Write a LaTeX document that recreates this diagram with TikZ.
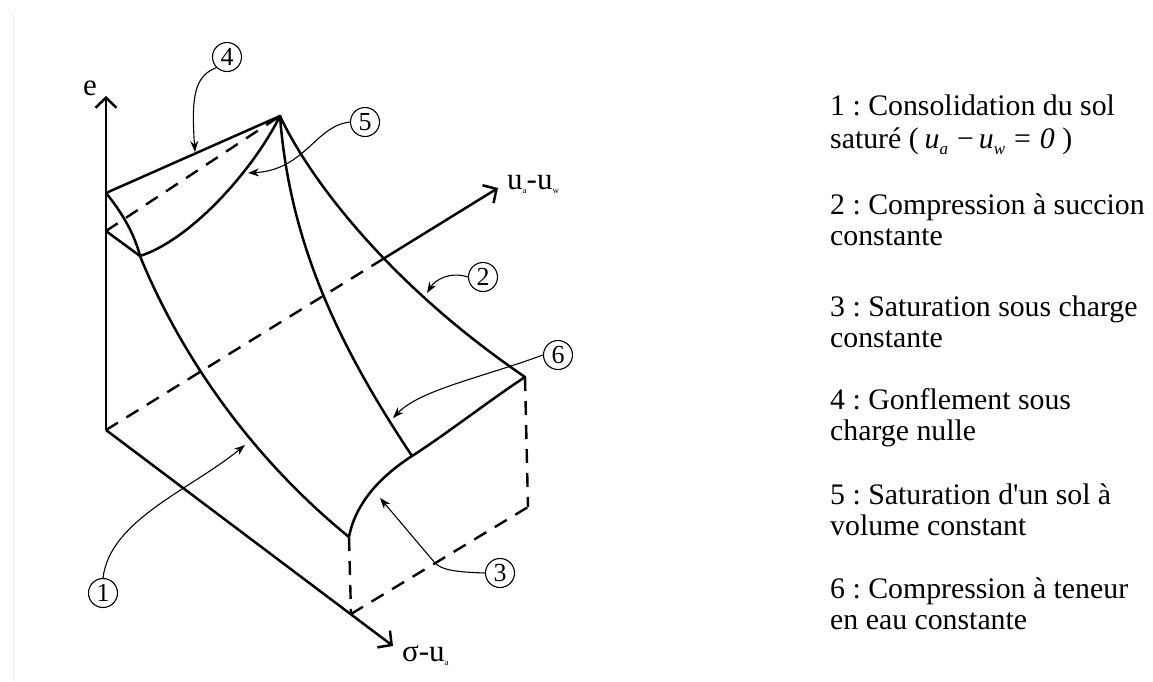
\documentclass[tikz,border=0pt]{standalone}
\usepackage{fontspec}
\setmainfont{Liberation Serif}
\usetikzlibrary{arrows.meta}
\begin{document}
\frenchspacing
\begin{tikzpicture}[x=1pt,y=-1pt,
  edge/.style={line width=2.5pt, line cap=round, line join=round},
  hidden/.style={line width=2.4pt, dash pattern=on 14pt off 10pt},
  axisline/.style={line width=2.5pt, -{Straight Barb[length=10pt,width=21pt,line width=2.5pt]}},
  leader/.style={line width=1.1pt, -{Stealth[length=11pt,width=8pt]}},
  num/.style={circle, draw, line width=1.1pt, minimum size=29pt, inner sep=0pt, font=\fontsize{26}{26}\selectfont},
  lab/.style={font=\fontsize{31}{31}\selectfont, inner sep=0pt},
  legend/.style={anchor=base west, inner sep=0pt, font=\fontsize{29.8}{32}\selectfont},
]
\path[use as bounding box] (0,0) rectangle (1153,681);
\draw[black!7, line width=1pt] (13,12) -- (13,681);

% key points
\coordinate (O) at (106,430);
\coordinate (Etip) at (106,96);
\coordinate (A) at (106,193);
\coordinate (B) at (106,231);
\coordinate (X) at (280,116);
\coordinate (P) at (140,256);
\coordinate (Q) at (349,537);
\coordinate (R) at (525,377);
\coordinate (S) at (351,614);
\coordinate (T) at (528,507);
\coordinate (M) at (412,456);
\coordinate (W) at (383,259);
\coordinate (Utip) at (498,188);
\coordinate (Stip) at (393,646);

% axes
\draw[axisline] (O) -- (Etip);
\draw[axisline] (O) -- (Stip);
\draw[hidden] (O) -- (W);
\draw[axisline] (W) -- (Utip);

% top face
\draw[edge] (A) -- (X);
\draw[hidden] (B) -- (X);
\draw[edge] (B) -- (P);

% curve 1
\draw[edge] (A) .. controls (120,210) and (134,232) .. (P) .. controls (168,325) and (230,440) .. (Q);
% curve 5
\draw[edge] (P) .. controls (190,240) and (252,172) .. (X);
% curve 6 (inner)
\draw[edge] (X) .. controls (290,250) and (345,355) .. (M);
% curve 2 (outer)
\draw[edge] (X) .. controls (310,180) and (390,285) .. (R);
% curve 3 (bottom)
\draw[edge] (Q) .. controls (355,505) and (378,478) .. (M) .. controls (445,435) and (490,400) .. (R);

% hidden box lines
\draw[hidden] (Q) -- (S);
\draw[hidden] (S) -- (T);
\draw[hidden] (R) -- (T);

% axis labels
\node[lab] (le) at (90,88) {e};
\node[lab, anchor=west] (lu) at (507,184) {u{\fontsize{9}{9}\selectfont\raisebox{-4pt}{a}}-u{\fontsize{9}{9}\selectfont\raisebox{-4pt}{w}}};
\node[lab, anchor=west] (ls) at (402,656) {σ-u{\fontsize{9}{9}\selectfont\raisebox{-4pt}{a}}};

% numbered circles and leaders
\node[num] (n1) at (103,593) {1};
\node[num] (n2) at (483,277) {2};
\node[num] (n3) at (500,573) {3};
\node[num] (n4) at (227,57) {4};
\node[num] (n5) at (365,122) {5};
\node[num] (n6) at (558,355) {6};

\draw[leader] (n1.north) .. controls (110,520) and (190,490) .. (245,445);
\draw[leader] (n2.west) .. controls (450,271) and (435,280) .. (427,293);
\draw[leader] (n3.west) .. controls (455,572) and (442,570) .. (435,563) -- (380,498);
\draw[leader] (n4.south west) .. controls (195,76) and (191,95) .. (195,152);
\draw[leader] (n5.west) .. controls (315,126) and (305,170) .. (248,173);
\draw[leader] (n6.west) .. controls (480,378) and (420,390) .. (393,418);

% legend
\node[legend] (t1a) at (830,115) {1 : Consolidation du sol};
\node[legend] (t1b) at (830,148) {saturé (\hspace{6pt}\textit{u}\raisebox{-6pt}{\fontsize{17}{17}\selectfont\textit{a}}\hspace{9pt}−\hspace{5pt}\textit{u}\raisebox{-6pt}{\fontsize{17}{17}\selectfont\textit{w}}\hspace{9pt}=\hspace{9pt}\textit{0} )};
\node[legend] (t2a) at (830,214) {2 : Compression à succion};
\node[legend] (t2b) at (830,245) {constante};
\node[legend] (t3a) at (830,316) {3 : Saturation sous charge};
\node[legend] (t3b) at (830,347) {constante};
\node[legend] (t4a) at (830,409) {4 : Gonflement sous};
\node[legend] (t4b) at (830,440) {charge nulle};
\node[legend] (t5a) at (830,504) {5 : Saturation d\textquotesingle un sol à};
\node[legend] (t5b) at (830,535) {volume constant};
\node[legend] (t6a) at (830,598) {6 : Compression à teneur};
\node[legend] (t6b) at (830,629) {en eau constante};
\end{tikzpicture}
\end{document}
